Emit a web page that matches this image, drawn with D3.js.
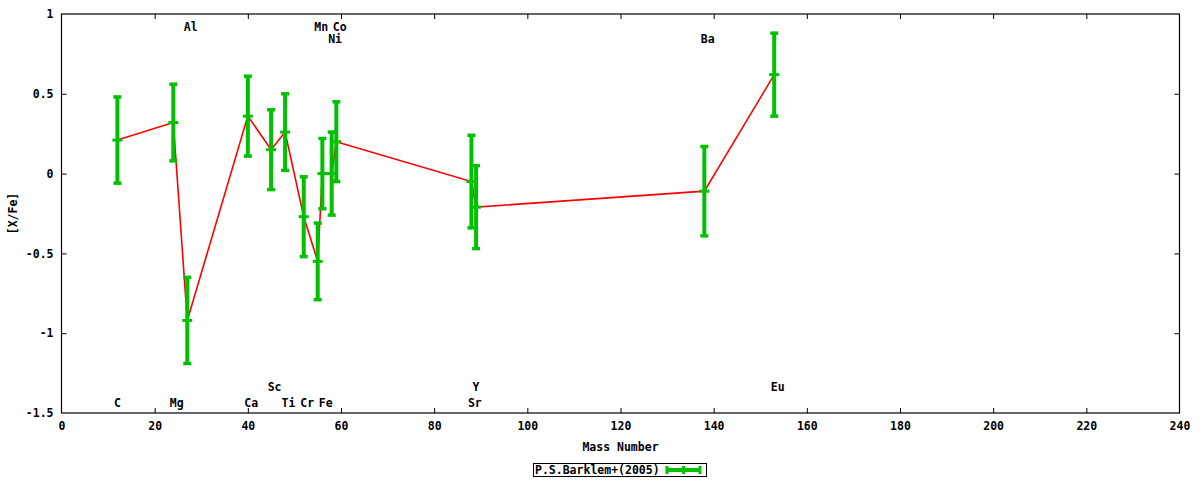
<!DOCTYPE html>
<html>
<head>
<meta charset="utf-8">
<script src="https://cdn.jsdelivr.net/npm/d3@7"></script>
<style>
  html, body { margin: 0; padding: 0; background: #fff; }
  svg text { font-family: "DejaVu Sans Mono", "Liberation Mono", monospace; font-weight: bold; font-size: 11.5px; fill: #000; }
</style>
</head>
<body>
<svg id="chart" width="1200" height="480"></svg>
<script>
// ---- data ----
const elements = ["C", "Mg", "Al", "Ca", "Sc", "Ti", "Cr", "Mn", "Fe", "Ni", "Co", "Sr", "Y", "Ba", "Eu"];
const massNumbers = [12, 24, 27, 40, 45, 48, 52, 55, 56, 58, 59, 88, 89, 138, 153];
const xFe = [0.21, 0.32, -0.92, 0.36, 0.15, 0.26, -0.27, -0.55, 0.00, 0.00, 0.20, -0.05, -0.21, -0.11, 0.62];
const xFeErr = [0.27, 0.24, 0.27, 0.25, 0.25, 0.24, 0.25, 0.24, 0.22, 0.26, 0.25, 0.29, 0.26, 0.28, 0.26];
// element label heights (data units of [X/Fe])
const labelLevel = [-1.44, -1.44, 0.92, -1.44, -1.34, -1.44, -1.44, 0.92, -1.44, 0.845, 0.92, -1.44, -1.34, 0.845, -1.34];
const xTicks = [0, 20, 40, 60, 80, 100, 120, 140, 160, 180, 200, 220, 240];
const yTicks = [1, 0.5, 0, -0.5, -1, -1.5];
const seriesName = "P.S.Barklem+(2005)";
const xTitle = "Mass Number";
const yTitle = "[X/Fe]";

// ---- layout ----
const svg = d3.select("#chart");
const L = 61.5, R = 1179.5, T = 14, B = 413;
const x = d3.scaleLinear().domain([0, 240]).range([L, R]);
const y = d3.scaleLinear().domain([-1.5, 1]).range([B, T]);
const GREEN = "#00c000", RED = "#ff0000";

const pts = elements.map((e, i) => ({ e, m: massNumbers[i], v: xFe[i], err: xFeErr[i], lv: labelLevel[i] }));

// axes with inward ticks
const tickLen = 5;
const fmt = d => d3.format("")(d).replace("−", "-");
const gB = svg.append("g").attr("transform", `translate(0,${B})`)
  .call(d3.axisBottom(x).tickValues(xTicks).tickSize(-tickLen).tickPadding(9).tickFormat(fmt));
const gT = svg.append("g").attr("transform", `translate(0,${T})`)
  .call(d3.axisTop(x).tickValues(xTicks).tickSize(-tickLen).tickFormat(""));
const gL = svg.append("g").attr("transform", `translate(${L},0)`)
  .call(d3.axisLeft(y).tickValues(yTicks).tickSize(-tickLen).tickPadding(8).tickFormat(fmt));
const gR = svg.append("g").attr("transform", `translate(${R},0)`)
  .call(d3.axisRight(y).tickValues(yTicks).tickSize(-tickLen).tickFormat(""));
[gB, gT, gL, gR].forEach(g => {
  g.select(".domain").remove();
  g.selectAll(".tick line").attr("stroke", "#000").attr("stroke-width", 1);
  g.selectAll("text").style("font-family", "DejaVu Sans Mono, monospace").style("font-weight", "bold").style("font-size", "11.5px");
});
gB.selectAll(".tick").filter(d => d === 0 || d === 240).select("line").remove();
gT.selectAll(".tick").filter(d => d === 0 || d === 240).select("line").remove();
gL.selectAll(".tick").filter(d => d === 1 || d === -1.5).select("line").remove();
gR.selectAll(".tick").filter(d => d === 1 || d === -1.5).select("line").remove();

// border
svg.append("rect").attr("x", L).attr("y", T).attr("width", R - L).attr("height", B - T)
  .attr("fill", "none").attr("stroke", "#000").attr("stroke-width", 1.2);

// titles
svg.append("text").attr("x", x(120)).attr("y", 451).attr("text-anchor", "middle").text(xTitle);
svg.append("text").attr("transform", `translate(17,${(T + B) / 2}) rotate(-90)`)
  .attr("text-anchor", "middle").text(yTitle);

// element labels
svg.append("g").selectAll("text").data(pts).join("text")
  .attr("x", d => x(d.m) - 3.5).attr("y", d => y(d.lv) + 4)
  .attr("text-anchor", "start").text(d => d.e);

// red connecting line
svg.append("path").datum(pts)
  .attr("d", d3.line().x(d => x(d.m)).y(d => y(d.v)))
  .attr("fill", "none").attr("stroke", RED).attr("stroke-width", 1.6);

// error bars
const eb = svg.append("g").selectAll("g").data(pts).join("g");
eb.append("line").attr("x1", d => x(d.m)).attr("x2", d => x(d.m))
  .attr("y1", d => y(d.v + d.err)).attr("y2", d => y(d.v - d.err))
  .attr("stroke", GREEN).attr("stroke-width", 4);
eb.append("line").attr("x1", d => x(d.m) - 4).attr("x2", d => x(d.m) + 4)
  .attr("y1", d => y(d.v + d.err)).attr("y2", d => y(d.v + d.err))
  .attr("stroke", GREEN).attr("stroke-width", 3.5);
eb.append("line").attr("x1", d => x(d.m) - 4).attr("x2", d => x(d.m) + 4)
  .attr("y1", d => y(d.v - d.err)).attr("y2", d => y(d.v - d.err))
  .attr("stroke", GREEN).attr("stroke-width", 3.5);
eb.append("line").attr("x1", d => x(d.m) - 5).attr("x2", d => x(d.m) + 5)
  .attr("y1", d => y(d.v)).attr("y2", d => y(d.v))
  .attr("stroke", GREEN).attr("stroke-width", 3);

// legend
const lg = svg.append("g");
lg.append("rect").attr("x", 533.5).attr("y", 463.5).attr("width", 173).attr("height", 13)
  .attr("fill", "#fff").attr("stroke", "#000").attr("stroke-width", 1);
lg.append("text").attr("x", 535).attr("y", 474).text(seriesName);
const lx1 = 667, lx2 = 700, ly = 470;
lg.append("line").attr("x1", lx1).attr("x2", lx2).attr("y1", ly).attr("y2", ly).attr("stroke", GREEN).attr("stroke-width", 4);
lg.append("line").attr("x1", lx1).attr("x2", lx1).attr("y1", ly - 4).attr("y2", ly + 4).attr("stroke", GREEN).attr("stroke-width", 3);
lg.append("line").attr("x1", lx2).attr("x2", lx2).attr("y1", ly - 4).attr("y2", ly + 4).attr("stroke", GREEN).attr("stroke-width", 3);
lg.append("line").attr("x1", (lx1 + lx2) / 2).attr("x2", (lx1 + lx2) / 2).attr("y1", ly - 4).attr("y2", ly + 4).attr("stroke", GREEN).attr("stroke-width", 3);
</script>
</body>
</html>
